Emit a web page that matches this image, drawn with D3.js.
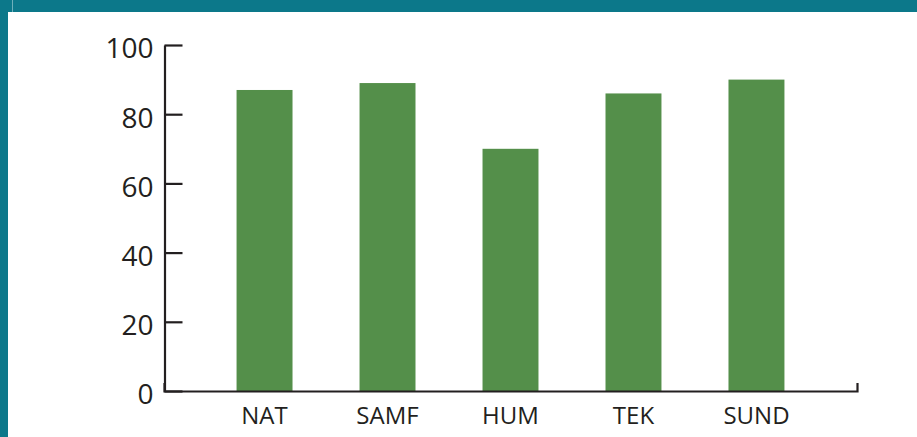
<!DOCTYPE html>
<html>
<head>
<meta charset="utf-8">
<script src="https://cdn.jsdelivr.net/npm/d3@7"></script>
<style>
  html, body { margin: 0; padding: 0; background: #fff; }
  svg { display: block; }
</style>
</head>
<body>
<svg id="chart" width="917" height="437"></svg>
<script>
// faculties and their values
const categories = ["NAT", "SAMF", "HUM", "TEK", "SUND"]
const values = [87, 89, 70, 86, 90]
const yTicks = [0, 20, 40, 60, 80, 100]

const svg = d3.select("#chart")
const WIDTH = +svg.attr("width")
const HEIGHT = +svg.attr("height")
const TEAL = "#0c788a"
const GREEN = "#548f4a"
const INK = "#231f20"

// frame: teal band on top and left
svg.append("rect").attr("x", 0).attr("y", 0).attr("width", WIDTH).attr("height", 12).style("fill", TEAL)
svg.append("rect").attr("x", 0).attr("y", 0).attr("width", 8).attr("height", HEIGHT).style("fill", TEAL)
svg.append("line").attr("x1", 12.5).attr("x2", 12.5).attr("y1", 0).attr("y2", 12)
    .style("stroke", "#6fb0bb").style("stroke-width", 1)

// scales
let x = d3.scaleBand()
    .domain(categories)
    .range([164, 857])
    .paddingInner(0.545)
    .paddingOuter(0.59)

let y = d3.scaleLinear()
    .domain([0, 100])
    .range([391, 45])

// bars
svg.append("g")
    .selectAll("rect")
    .data(categories)
    .join("rect")
    .attr("x", d => x(d))
    .attr("y", (d, i) => y(values[i]))
    .attr("width", x.bandwidth())
    .attr("height", (d, i) => y(0) - y(values[i]))
    .style("fill", GREEN)

// y axis, ticks pointing inward
let yAxis = svg.append("g")
    .attr("transform", "translate(164.5,0)")
    .call(d3.axisLeft(y).tickValues(yTicks).tickSizeInner(-18).tickSizeOuter(0).tickPadding(11))
yAxis.select(".domain").style("stroke", INK).style("stroke-width", 2.2)
yAxis.selectAll(".tick line").style("stroke", INK).style("stroke-width", 2.2)
yAxis.selectAll(".tick text")
    .attr("dy", "0.46em")
    .style("font-family", "'Open Sans', sans-serif")
    .style("font-size", "28px")
    .style("fill", INK)

// x axis, small up-tick at the right end
let xAxis = svg.append("g")
    .attr("transform", "translate(0,391)")
    .call(d3.axisBottom(x).tickSizeInner(0).tickSizeOuter(-8).tickPadding(16))
xAxis.select(".domain").style("stroke", INK).style("stroke-width", 2.2)
xAxis.selectAll(".tick text")
    .attr("dy", "0.71em")
    .style("font-family", "'Open Sans', sans-serif")
    .style("font-size", "24px")
    .style("fill", INK)
</script>
</body>
</html>
